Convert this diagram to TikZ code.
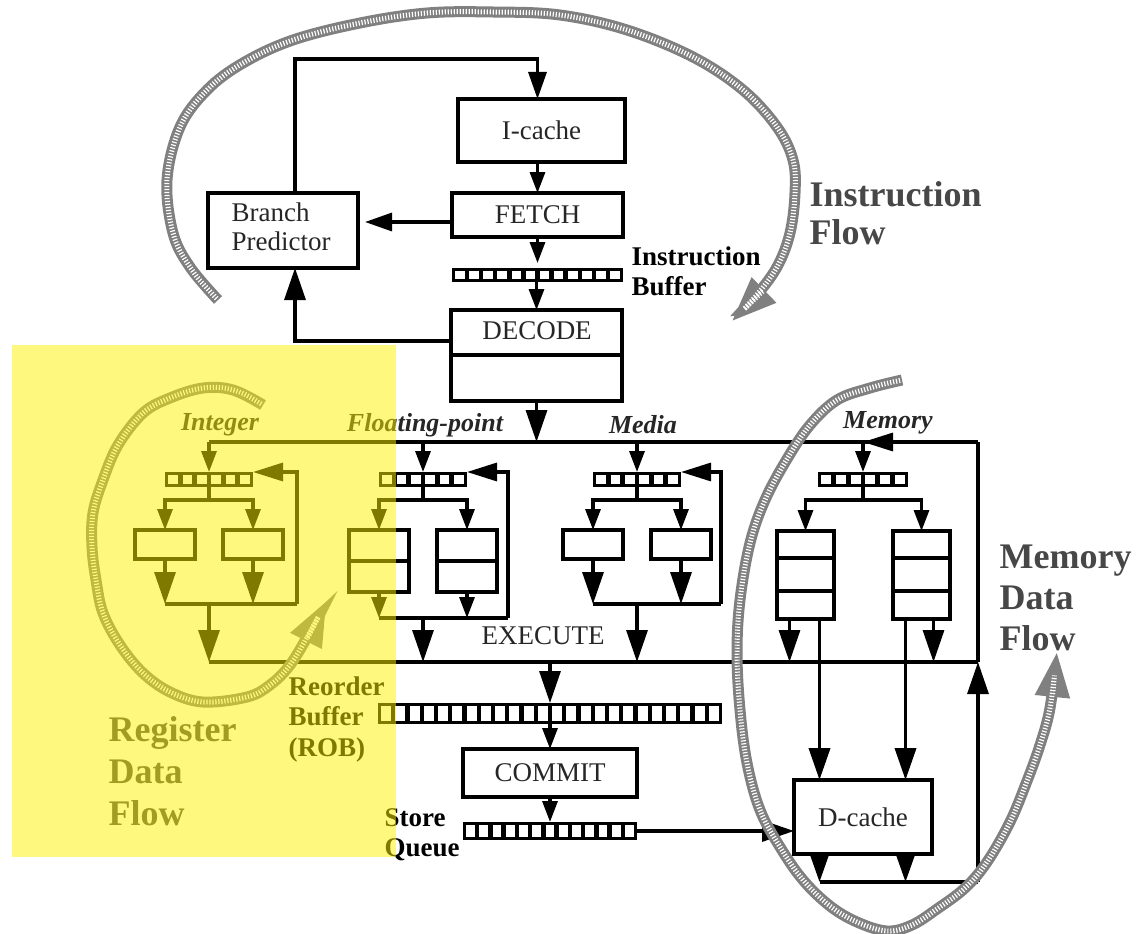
\documentclass[tikz,border=0pt]{standalone}
\usepackage{fontspec}
\setmainfont{Liberation Serif}
\usetikzlibrary{arrows.meta,calc}
\newcommand\myboxfont{\fontsize{27}{30}\selectfont}
\newcommand\mylblfont{\fontsize{27}{30.5}\selectfont\bfseries}
\newcommand\mycatfont{\fontsize{26}{30}\selectfont\bfseries\itshape}
\newcommand\qcells[4]{\foreach \i in {1,...,#2}{\fill[white] ($(#1.north west)+({(\i-1)*#3+3.2},3.2)$) rectangle ++({#3-4.4},#4);}}
\tikzset{
  box/.style={draw, line width=3.6pt, inner sep=0pt, outer sep=0pt, anchor=north west, font=\myboxfont, text=black!85},
  qbar/.style={fill=black, inner sep=0pt, outer sep=0pt, anchor=north west},
  txt/.style={font=\myboxfont, text=black!85, inner sep=0pt},
  lbl/.style={font=\mylblfont, inner sep=0pt, align=left, anchor=north west},
  cat/.style={font=\mycatfont, text=black!85, inner sep=0pt, anchor=base},
  big/.style={text=black!72, inner sep=0pt, align=left, anchor=north west},
  sarr/.style={-{Triangle[length=21pt,width=15pt]}},
  marr/.style={-{Triangle[length=27pt,width=18pt]}},
  barr/.style={-{Triangle[length=32pt,width=21pt]}},
  farr/.style={-{Triangle[length=30pt,width=18pt]}},
  flowline/.style={line width=11pt, draw=black!50, -{Triangle[length=46pt,width=32pt]}},
  flowtex/.style={line width=5pt, draw=white, dash pattern=on 1.2pt off 1.8pt, shorten >=44pt, shorten <=2pt},
}
\newcommand\unitgroup[6]{%
\begin{scope}[xshift=#2]
\node[qbar, minimum width=88pt, minimum height=15pt] (#1q) at (165,472) {};
\node[box, minimum width=60pt, minimum height=#3] (#1a) at (135,530) {};
\node[box, minimum width=60pt, minimum height=#3] (#1b) at (223,530) {};
\coordinate (#1s) at (209,500);
\coordinate (#1j) at (209,#4);
\coordinate (#1f) at (#5,#4);
\end{scope}
\qcells{#1q}{6}{14.33}{8.6}
\draw[sarr] (#1q.north |- busT) -- (#1q.north);
\draw (#1q.south) -- (#1s);
\draw[sarr] (#1s) -| (#1a.north);
\draw[sarr] (#1s) -| (#1b.north);
\draw[#6] (#1a.south) -- (#1a.south |- #1j);
\draw[#6] (#1b.south) -- (#1b.south |- #1j);
\draw (#1a.south |- #1j) -- (#1f);
\draw[farr] (#1f) |- (#1q.north east);
\draw[barr] (#1j) -- (#1j |- busB);
}
\def\iflowpath{plot[smooth,tension=0.6] coordinates {(218,300) (190,267) (173,233) (167,180) (180,127) (207,90) (243,63) (293,40) (360,23) (427,13) (493,12) (560,15) (627,30) (693,57) (743,90) (777,127) (793,160) (795,193) (790,233) (777,267) (755,297) (731,322)}}
\def\rflowpath{plot[smooth,tension=0.6] coordinates {(263,405) (233,390) (203,388) (170,398) (143,413) (118,445) (103,480) (93,513) (92,547) (96,580) (103,613) (120,645) (143,673) (170,692) (203,702) (247,697) (270,685) (290,665) (310,632) (327,600)}}
\def\mflowpath{plot[smooth,tension=0.6] coordinates {(902,380) (870,388) (837,400) (810,425) (787,459) (765,500) (750,543) (740,600) (737,653) (740,710) (747,763) (760,810) (780,847) (803,880) (830,906) (857,922) (887,931) (912,925) (937,909) (965,888) (987,862) (1010,822) (1027,781) (1040,745) (1050,708) (1057,651)}}
\begin{document}
\begin{tikzpicture}[x=1pt,y=-1pt,line width=3.2pt]
\useasboundingbox (0,0) rectangle (1136,934);
\coordinate (busT) at (0,442);
\coordinate (busB) at (0,662);
\coordinate (busR) at (978,442);
% front end
\node[box, minimum width=167pt, minimum height=63pt] (icache) at (458,99) {I-cache};
\node[box, minimum width=171pt, minimum height=44pt] (fetch) at (452,193) {FETCH};
\node[box, minimum width=150pt, minimum height=75pt] (bp) at (208,193) {};
\node[txt, align=left, anchor=north west, font=\fontsize{27}{29}\selectfont] (bptxt) at (230,201) {Branch\\Predictor};
\node[qbar, minimum width=171pt, minimum height=14pt] (ibuf) at (452,268) {};
\qcells{ibuf}{12}{14.08}{7.6}
\node[box, minimum width=171pt, minimum height=91pt] (decode) at (451,310) {};
\draw[line width=3.6pt] ($(decode.north west)+(0,45)$) -- ($(decode.north east)+(0,45)$);
\node[txt] (decodetxt) at (537,331) {DECODE};
\node[lbl] (iblbl) at (630,245) {Instruction\\Buffer};
\node[big, font=\fontsize{36}{38}\selectfont\bfseries] (iflbl) at (808,180) {Instruction\\Flow};
\coordinate (bpup) at ($(bp.north)+(12,0)$);
\coordinate (bpdn) at ($(bp.south)+(12,0)$);
\coordinate (toprow) at (0,59);
\coordinate (fw) at ($(fetch.west)+(0,7)$);
\coordinate (dw) at ($(decode.north west)+(0,31)$);
\draw[marr] (bpup) |- (toprow -| fetch.north) -- (icache.north -| fetch.north);
\draw[sarr] (icache.south -| fetch.north) -- (fetch.north);
\draw[marr, shorten >=7pt] (fw) -- (fw -| bp.east);
\draw[sarr, shorten >=5pt] (fetch.south) -- (ibuf.north -| fetch.south);
\draw[sarr] (ibuf.south -| decode.north) -- (decode.north);
\draw[barr] (dw) -| (bpdn);
\draw[barr] (decode.south) -- (decode.south |- busT);
% execution clusters
\unitgroup{int}{0}{29pt}{604}{297}{barr}
\unitgroup{fp}{214}{62pt}{618}{294}{sarr}
\unitgroup{med}{428}{29pt}{604}{293}{barr}
\draw[line width=3.6pt] (fpa.west) -- (fpa.east);
\draw[line width=3.6pt] (fpb.west) -- (fpb.east);
% memory cluster
\node[qbar, minimum width=90pt, minimum height=15pt] (mq) at (818,472) {};
\qcells{mq}{6}{14.67}{8.6}
\node[box, minimum width=57pt, minimum height=88pt] (ma) at (777,531) {};
\node[box, minimum width=57pt, minimum height=88pt] (mb) at (893,531) {};
\foreach \n in {ma,mb}{
  \draw[line width=3.6pt] ($(\n.north west)+(0,27)$) -- ($(\n.north east)+(0,27)$);
  \draw[line width=3.6pt] ($(\n.north west)+(0,60)$) -- ($(\n.north east)+(0,60)$);
}
\coordinate (ms) at (863,500);
\node[box, line width=4.2pt, minimum width=138pt, minimum height=74pt] (dcache) at (794,780) {D-cache};
\coordinate (dret) at (978,882);
\coordinate (mao) at ($(ma.south)+(-16,0)$);
\coordinate (mad) at ($(ma.south)+(14,0)$);
\coordinate (mbd) at ($(mb.south)+(-16,0)$);
\coordinate (mbo) at ($(mb.south)+(12,0)$);
\draw[sarr] (mq.north |- busT) -- (mq.north);
\draw (mq.south) -- (ms);
\draw[sarr] (ms) -| (ma.north);
\draw[sarr] (ms) -| (mb.north);
\draw[barr] (mao) -- (mao |- busB);
\draw[barr] (mbo) -- (mbo |- busB);
\draw[barr, line width=3.8pt] (mad) -- (mad |- dcache.north);
\draw[barr, line width=3.8pt] (mbd) -- (mbd |- dcache.north);
\draw[marr] (mad |- dcache.south) -- (mad |- dret);
\draw[marr] (mbd |- dcache.south) -- (mbd |- dret);
\draw (mad |- dret) -- (dret);
\draw[barr] (dret) -- (dret |- busB);
\draw (dret |- busB) -- (busR);
\draw[farr] (busR) -- (mq.north |- busR);
% buses
\draw (intq.north |- busT) -- (busR);
\draw (intj |- busB) -- (busR |- busB);
\node[txt] (exec) at (543,636) {EXECUTE};
% labels
\node[cat] (intlbl) at (220,430) {Integer};
\node[cat] (fplbl) at (425,431) {Floating-point};
\node[cat] (medlbl) at (643,433) {Media};
\node[cat] (memlbl) at (888,428) {Memory};
% retire
\node[qbar, minimum width=344pt, minimum height=21pt] (rob) at (378,703) {};
\qcells{rob}{24}{14.25}{14.6}
\node[box, minimum width=174pt, minimum height=48pt] (commit) at (463,749) {COMMIT};
\node[qbar, minimum width=174pt, minimum height=18pt] (sq) at (463,822) {};
\qcells{sq}{13}{13.23}{11.6}
\draw[barr] (rob.north |- busB) -- (rob.north);
\draw[sarr] (rob.south) -- (commit.north);
\draw[sarr] (commit.south) -- (sq.north);
\draw[barr] (sq.east) -- (sq.east -| dcache.west);
\node[lbl] (roblbl) at (287,675) {Reorder\\Buffer\\(ROB)};
\node[lbl, font=\fontsize{27}{30}\selectfont\bfseries] (sqlbl) at (383,807) {Store\\Queue};
\node[big, font=\fontsize{36}{41}\selectfont\bfseries] (mdflbl) at (998,543) {Memory\\Data\\Flow};
\node[big, font=\fontsize{36}{42}\selectfont\bfseries] (rdflbl) at (107,715) {Register\\Data\\Flow};
% flow arrows
\draw[flowline] \iflowpath;
\draw[flowtex] \iflowpath;
\draw[flowline] \rflowpath;
\draw[flowtex] \rflowpath;
\draw[flowline] \mflowpath;
\draw[flowtex] \mflowpath;
% highlight
\fill[yellow, opacity=0.5] (12,345) rectangle (396,857);
\end{tikzpicture}
\end{document}
